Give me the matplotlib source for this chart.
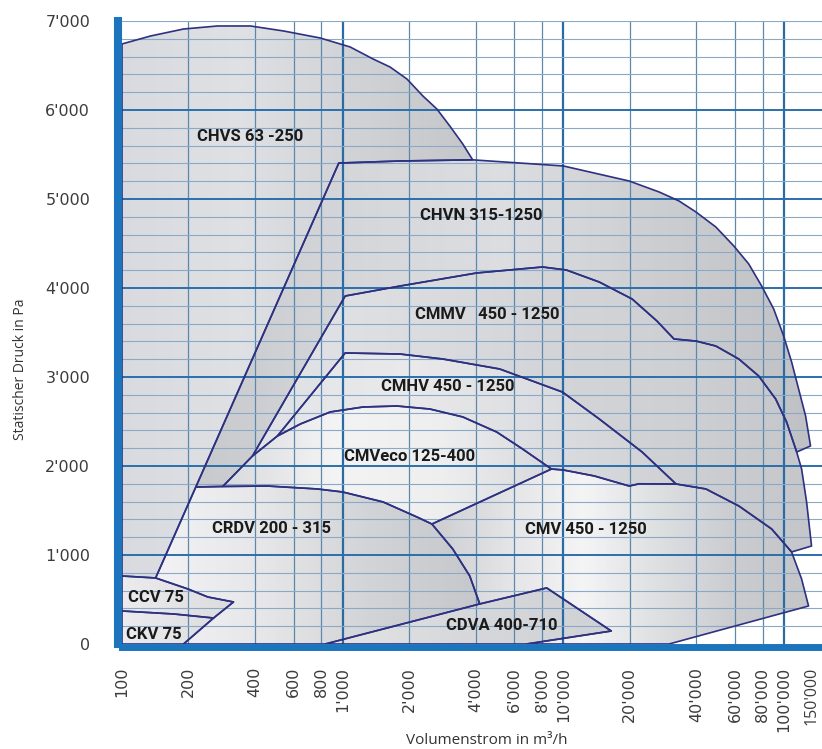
import numpy as np
import matplotlib.pyplot as plt
from matplotlib.patches import Polygon
from matplotlib.colors import LinearSegmentedColormap
from matplotlib.ticker import NullLocator

# axis ticks
x_ticks = [100, 200, 400, 600, 800, 1000, 2000, 4000, 6000, 8000,
           10000, 20000, 40000, 60000, 80000, 100000, 150000]
x_labels = ["100", "200", "400", "600", "800", "1'000", "2'000", "4'000",
            "6'000", "8'000", "10'000", "20'000", "40'000", "60'000",
            "80'000", "100'000", "150'000"]
y_ticks = [0, 1000, 2000, 3000, 4000, 5000, 6000, 7000]
y_labels = ["0", "1'000", "2'000", "3'000", "4'000", "5'000", "6'000", "7'000"]

######## boundary curves: Volumenstrom m3/h -> statischer Druck Pa ########

chvs_top_x = [100, 135, 190, 271, 382, 539, 791, 1081, 1373, 1639, 1955, 2309, 2671, 3057, 3500, 3880]
chvs_top_y = [6742, 6832, 6910, 6944, 6944, 6888, 6809, 6708, 6573, 6483, 6348, 6157, 6011, 5820, 5618, 5440]

chvn_top_x = [960, 1818, 3880, 10000, 19861, 27130, 33390, 39860, 49060, 59160, 69120,
              79100, 89700, 99470, 108100, 116300, 125100, 131700]
chvn_top_y = [5404, 5427, 5440, 5371, 5202, 5079, 4978, 4854, 4685, 4472, 4270,
              4022, 3764, 3461, 3169, 2865, 2562, 2225]
chvn_foot = (114000, 2157)

# steep left flank shared by CHVN and CRDV
flank_x = [142, 216, 960]
flank_y = [742, 1764, 5404]

cmmv_top_x = [1026, 1818, 4048, 8037, 10316, 14541, 20490, 26500, 31700, 39860,
              49060, 62330, 76710, 91540, 102600, 114000, 120000, 126400, 133100]
cmmv_top_y = [3910, 4022, 4169, 4236, 4202, 4067, 3876, 3630, 3427, 3404,
              3348, 3202, 3011, 2753, 2494, 2157, 1966, 1596, 1101]
cmmv_foot = (108100, 1034)
cmmv_left_x = [390, 1026]
cmmv_left_y = [2112, 3910]

cmhv_top_x = [1026, 1818, 2843, 5141, 9897, 14541, 22730, 32370]
cmhv_top_y = [3270, 3258, 3202, 3090, 2831, 2528, 2157, 1798]
cmhv_left_x = [506, 1026]
cmhv_left_y = [2337, 3270]

cmveco_x = [286, 390, 506, 643, 878, 1238, 1762, 2484, 3500, 4984, 6530, 8826]
cmveco_y = [1770, 2112, 2337, 2472, 2607, 2663, 2674, 2640, 2551, 2382, 2191, 1966]

crdv_top_x = [216, 286, 456, 767, 1000, 1524, 2169, 2536, 3153, 3764, 4177]
crdv_top_y = [1764, 1770, 1775, 1742, 1708, 1596, 1427, 1348, 1067, 764, 450]

cmv_left_x = [2536, 8826]
cmv_left_y = [1348, 1966]
cmv_top_x = [8826, 10000, 13800, 19861, 22030, 32370, 44210, 62330, 87830, 108100, 120000, 129000]
cmv_top_y = [1966, 1955, 1888, 1775, 1800, 1798, 1742, 1551, 1292, 1034, 730, 427]
cmv_foot_x = [30100, 129000]
cmv_foot_y = [0, 427]

cdva_top_x = [834, 4177, 8400, 16473]
cdva_top_y = [0, 450, 630, 146]
cdva_base_x = [6808, 16473]
cdva_base_y = [0, 146]

ccv_top_x = [100, 142, 199, 245, 320]
ccv_top_y = [764, 742, 618, 528, 472]
ckv_top_x = [100, 172, 260]
ckv_top_y = [371, 337, 292]
ckv_right_x = [190, 260, 320]
ckv_right_y = [0, 292, 472]

names = ["CHVS 63 -250", "CHVN 315-1250", "CMMV   450 - 1250", "CMHV 450 - 1250",
         "CMVeco 125-400", "CRDV 200 - 315", "CMV 450 - 1250", "CDVA 400-710",
         "CCV 75", "CKV 75"]


def seg(xs, ys, a, b):
    # part of a curve between two flow values, walked from a to b
    pts = [(x, y) for x, y in zip(xs, ys) if min(a, b) <= x <= max(a, b)]
    return pts if a <= b else pts[::-1]


regions = [
    seg(chvs_top_x, chvs_top_y, 100, 3880) + seg(chvn_top_x, chvn_top_y, 3880, 960)
    + seg(flank_x, flank_y, 960, 142) + seg(ccv_top_x, ccv_top_y, 142, 100),

    seg(chvn_top_x, chvn_top_y, 960, 131700) + [chvn_foot]
    + seg(cmmv_top_x, cmmv_top_y, 114000, 1026) + seg(cmmv_left_x, cmmv_left_y, 1026, 390)
    + seg(cmveco_x, cmveco_y, 390, 286) + seg(crdv_top_x, crdv_top_y, 286, 216)
    + seg(flank_x, flank_y, 216, 960),

    seg(cmmv_top_x, cmmv_top_y, 1026, 133100) + [cmmv_foot]
    + seg(cmv_top_x, cmv_top_y, 108100, 32370) + seg(cmhv_top_x, cmhv_top_y, 32370, 1026)
    + seg(cmhv_left_x, cmhv_left_y, 1026, 506) + seg(cmveco_x, cmveco_y, 506, 390)
    + seg(cmmv_left_x, cmmv_left_y, 390, 1026),

    seg(cmhv_top_x, cmhv_top_y, 1026, 32370) + seg(cmv_top_x, cmv_top_y, 32370, 8826)
    + seg(cmveco_x, cmveco_y, 8826, 506) + seg(cmhv_left_x, cmhv_left_y, 506, 1026),

    seg(cmveco_x, cmveco_y, 286, 8826) + seg(cmv_left_x, cmv_left_y, 8826, 2536)
    + seg(crdv_top_x, crdv_top_y, 2536, 286),

    seg(crdv_top_x, crdv_top_y, 216, 4177) + seg(cdva_top_x, cdva_top_y, 4177, 834)
    + seg(ckv_right_x, ckv_right_y, 190, 320) + seg(ccv_top_x, ccv_top_y, 320, 142)
    + seg(flank_x, flank_y, 142, 216),

    seg(cmv_top_x, cmv_top_y, 8826, 129000) + seg(cmv_foot_x, cmv_foot_y, 129000, 30100)
    + seg(cdva_base_x, cdva_base_y, 6808, 16473) + seg(cdva_top_x, cdva_top_y, 16473, 4177)
    + seg(crdv_top_x, crdv_top_y, 4177, 2536) + seg(cmv_left_x, cmv_left_y, 2536, 8826),

    seg(cdva_top_x, cdva_top_y, 834, 16473) + seg(cdva_base_x, cdva_base_y, 16473, 6808),

    seg(ccv_top_x, ccv_top_y, 100, 320) + seg(ckv_right_x, ckv_right_y, 320, 260)
    + seg(ckv_top_x, ckv_top_y, 260, 100),

    seg(ckv_top_x, ckv_top_y, 100, 260) + seg(ckv_right_x, ckv_right_y, 260, 190) + [(100, 0)],
]

# grey sheen of each field, left -> right
shades = [
    ['#d9dadf', '#dfe0e3', '#d1d2d6', '#c5c6ca'],
    ['#c8c9cd', '#d5d6d9', '#dcdde0', '#cdced2', '#c0c1c5'],
    ['#e3e4e7', '#dcdde0', '#d4d5d8', '#cfd0d3', '#c5c6ca'],
    ['#e4e5e8', '#e9e9eb', '#dcdde0', '#cfd0d3'],
    ['#d9dadd', '#f3f3f4', '#eeeeef', '#d8d9dc'],
    ['#f2f2f4', '#e6e6e8', '#d2d3d6', '#c6c7ca'],
    ['#cdced1', '#e4e4e6', '#f4f4f5', '#dedfe1', '#cbccd0', '#c4c5c9'],
    ['#e4e4e6', '#d6d7da', '#d0d1d4'],
    ['#ebebed', '#dcdcdf'],
    ['#ececee', '#dddee0'],
]

label_x = [382, 4265, 4540, 2994, 2017, 475, 12700, 5250, 142, 139.5]
label_y = [5697, 4809, 3697, 2888, 2112, 1303, 1292, 213, 517, 112]

outline = '#2d3180'
blue = '#1c75bc'

fig = plt.figure(figsize=(8.22, 7.49), dpi=100)
ax = fig.add_axes([122 / 822, 1 - 644 / 749, 701 / 822, 623 / 749])
ax.set_xscale('log')
ax.set_xlim(100, 150000)
ax.set_ylim(0, 7000)

for pts, stops in zip(regions, shades):
    poly = Polygon(pts, closed=True, facecolor='none', edgecolor=outline,
                   linewidth=1.2, joinstyle='round', zorder=3)
    ax.add_patch(poly)
    xs = [p[0] for p in pts]
    ys = [p[1] for p in pts]
    xe = np.logspace(np.log10(min(xs)), np.log10(max(xs)), 97)
    ye = [min(ys), max(ys)]
    c = np.linspace(0, 1, 96)[None, :]
    cmap = LinearSegmentedColormap.from_list('sheen', stops)
    mesh = ax.pcolormesh(xe, ye, c, cmap=cmap, shading='flat', zorder=1)
    mesh.set_clip_path(poly)

# grid
for v in x_ticks[1:-1]:
    major = v in (1000, 10000, 100000)
    ax.axvline(v, color='#2a6aa5' if major else '#5b88ab',
               lw=1.6 if major else 0.9, zorder=2)
for h in range(200, 7001, 200):
    major = h % 1000 == 0 and h < 7000
    ax.axhline(h, color='#2a6fad' if major else '#8aa9c6',
               lw=1.4 if major else 0.8, zorder=2)

for txt, lx, ly in zip(names, label_x, label_y):
    ax.text(lx, ly, txt, ha='center', va='center', fontsize=12, fontweight='bold',
            family=['Roboto', 'DejaVu Sans'], color='#1a1a1a', zorder=5)

ax.set_xticks(x_ticks[:-1])
ax.set_xticklabels(x_labels[:-1])
ax.xaxis.set_minor_locator(NullLocator())
ax.set_yticks(y_ticks)
ax.set_yticklabels(y_labels)
ax.tick_params(length=0, colors='#3c3c3c', labelsize=11.5)
ax.tick_params(axis='x', labelrotation=90, pad=14)
ax.tick_params(axis='y', pad=20)
for lab in ax.get_xticklabels() + ax.get_yticklabels():
    lab.set_family('Open Sans')

ax.annotate(x_labels[-1], xy=(x_ticks[-1], 0), xycoords=('data', 'axes fraction'),
            xytext=(-8, -16.5), textcoords='offset points', rotation=90,
            ha='center', va='top', fontsize=11.5, family='Open Sans', color='#3c3c3c',
            annotation_clip=False)

for side in ('top', 'right'):
    ax.spines[side].set_visible(False)
ax.spines['left'].set_linewidth(5.8)
ax.spines['left'].set_color(blue)
ax.spines['left'].set_position(('outward', 2.9))
ax.spines['bottom'].set_linewidth(5.0)
ax.spines['bottom'].set_color(blue)
ax.spines['bottom'].set_position(('outward', 2.5))
for s in ax.spines.values():
    s.set_zorder(6)

fig.text(20 / 822, 1 - 369 / 749, 'Statischer Druck in Pa', rotation=90,
         ha='center', va='center', fontsize=10, family='Open Sans', color='#333333')
fig.text(487 / 822, 1 - 740 / 749, 'Volumenstrom in m³/h',
         ha='center', va='center', fontsize=11, family='Open Sans', color='#333333')

fig.savefig('out.png', dpi=100)
